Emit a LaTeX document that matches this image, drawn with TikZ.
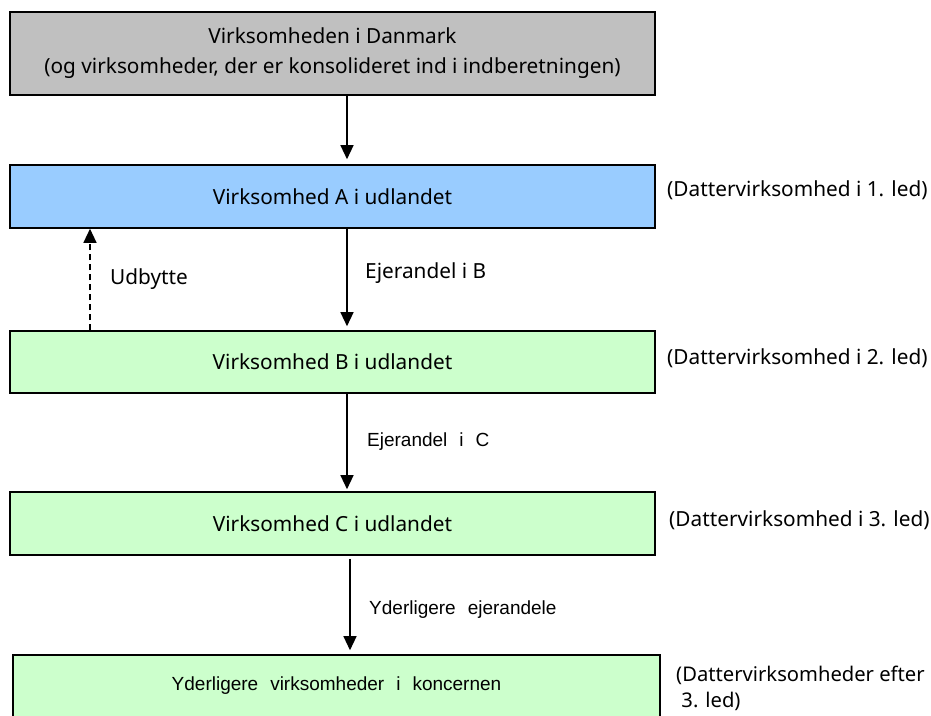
\documentclass[tikz,border=0pt]{standalone}
\usepackage{fontspec}
\setmainfont{Noto Sans}
\newfontfamily\arialfont{Liberation Sans}
\usetikzlibrary{arrows.meta}
\definecolor{dkgray}{HTML}{C0C0C0}
\definecolor{firmblue}{HTML}{99CCFF}
\definecolor{firmgreen}{HTML}{CCFFCC}
\newcommand{\wgap}{\hspace{12pt}}

\begin{document}
\begin{tikzpicture}[x=1pt,y=-1pt]
		\tikzstyle{firm}=[draw=black,line width=1.6pt,minimum width=645pt,inner sep=0,font=\fontsize{20.8}{30}\selectfont,align=center]
		\tikzstyle{lbl}=[anchor=west,inner sep=0,font=\fontsize{20.8}{27}\selectfont,align=left]
		\tikzstyle{albl}=[anchor=west,inner sep=0,font=\arialfont\fontsize{19}{23}\selectfont]
		\tikzstyle{own}=[line width=1.3pt,-{Triangle[length=14pt,width=13pt]}]
		\useasboundingbox (0,0) rectangle (931,715);

		\node[firm,fill=dkgray,minimum height=83pt] (dk) at (332.5,53.5)
			{Virksomheden i Danmark\\(og virksomheder, der er konsolideret ind i indberetningen)};
		\node[firm,fill=firmblue,minimum height=63pt] (a) at (332.5,196.5) {Virksomhed A i udlandet};
		\node[firm,fill=firmgreen,minimum height=62pt] (b) at (332.5,362) {Virksomhed B i udlandet};
		\node[firm,fill=firmgreen,minimum height=63pt] (c) at (332.5,523.5) {Virksomhed C i udlandet};
		\node[firm,fill=firmgreen,minimum width=647pt,minimum height=62pt,font=\arialfont\fontsize{19}{23}\selectfont] (d) at (336.5,686)
			{Yderligere\wgap virksomheder\wgap i\wgap koncernen};

		\foreach \n/\x/\y in {1/667/190,2/667/358,3/669/520}
			\node[lbl] (led\n) at (\x,\y) {(Dattervirksomhed i \n. led)};
		\node[lbl,font=\fontsize{20.2}{26}\selectfont] (ledmore) at (676,688) {(Dattervirksomheder efter\\\ 3. led)};

		\draw[own,shorten >=5pt] ([xshift=14.5pt]dk.south) -- ([xshift=14.5pt]a.north);
		\draw[own,shorten >=4pt] ([xshift=14.5pt]a.south) -- ([xshift=14.5pt]b.north);
		\draw[own,shorten >=2pt] ([xshift=14.5pt]b.south) -- ([xshift=14.5pt]c.north);
		\draw[own,shorten <=3pt,shorten >=4pt] ([xshift=17.5pt]c.south) -- ([xshift=13.5pt]d.north);
		\draw[own,dashed,dash pattern=on 6pt off 4pt] ([xshift=-242.5pt]b.north) -- ([xshift=-242.5pt]a.south);

		\node[lbl] (udbytte) at (110,279) {Udbytte};
		\node[lbl] (ejerb) at (365,273) {Ejerandel i B};
		\node[albl] (ejerc) at (367,442) {Ejerandel\wgap i\wgap C};
		\node[albl] (ejermore) at (369,610) {Yderligere\wgap ejerandele};
	\end{tikzpicture}
\end{document}
